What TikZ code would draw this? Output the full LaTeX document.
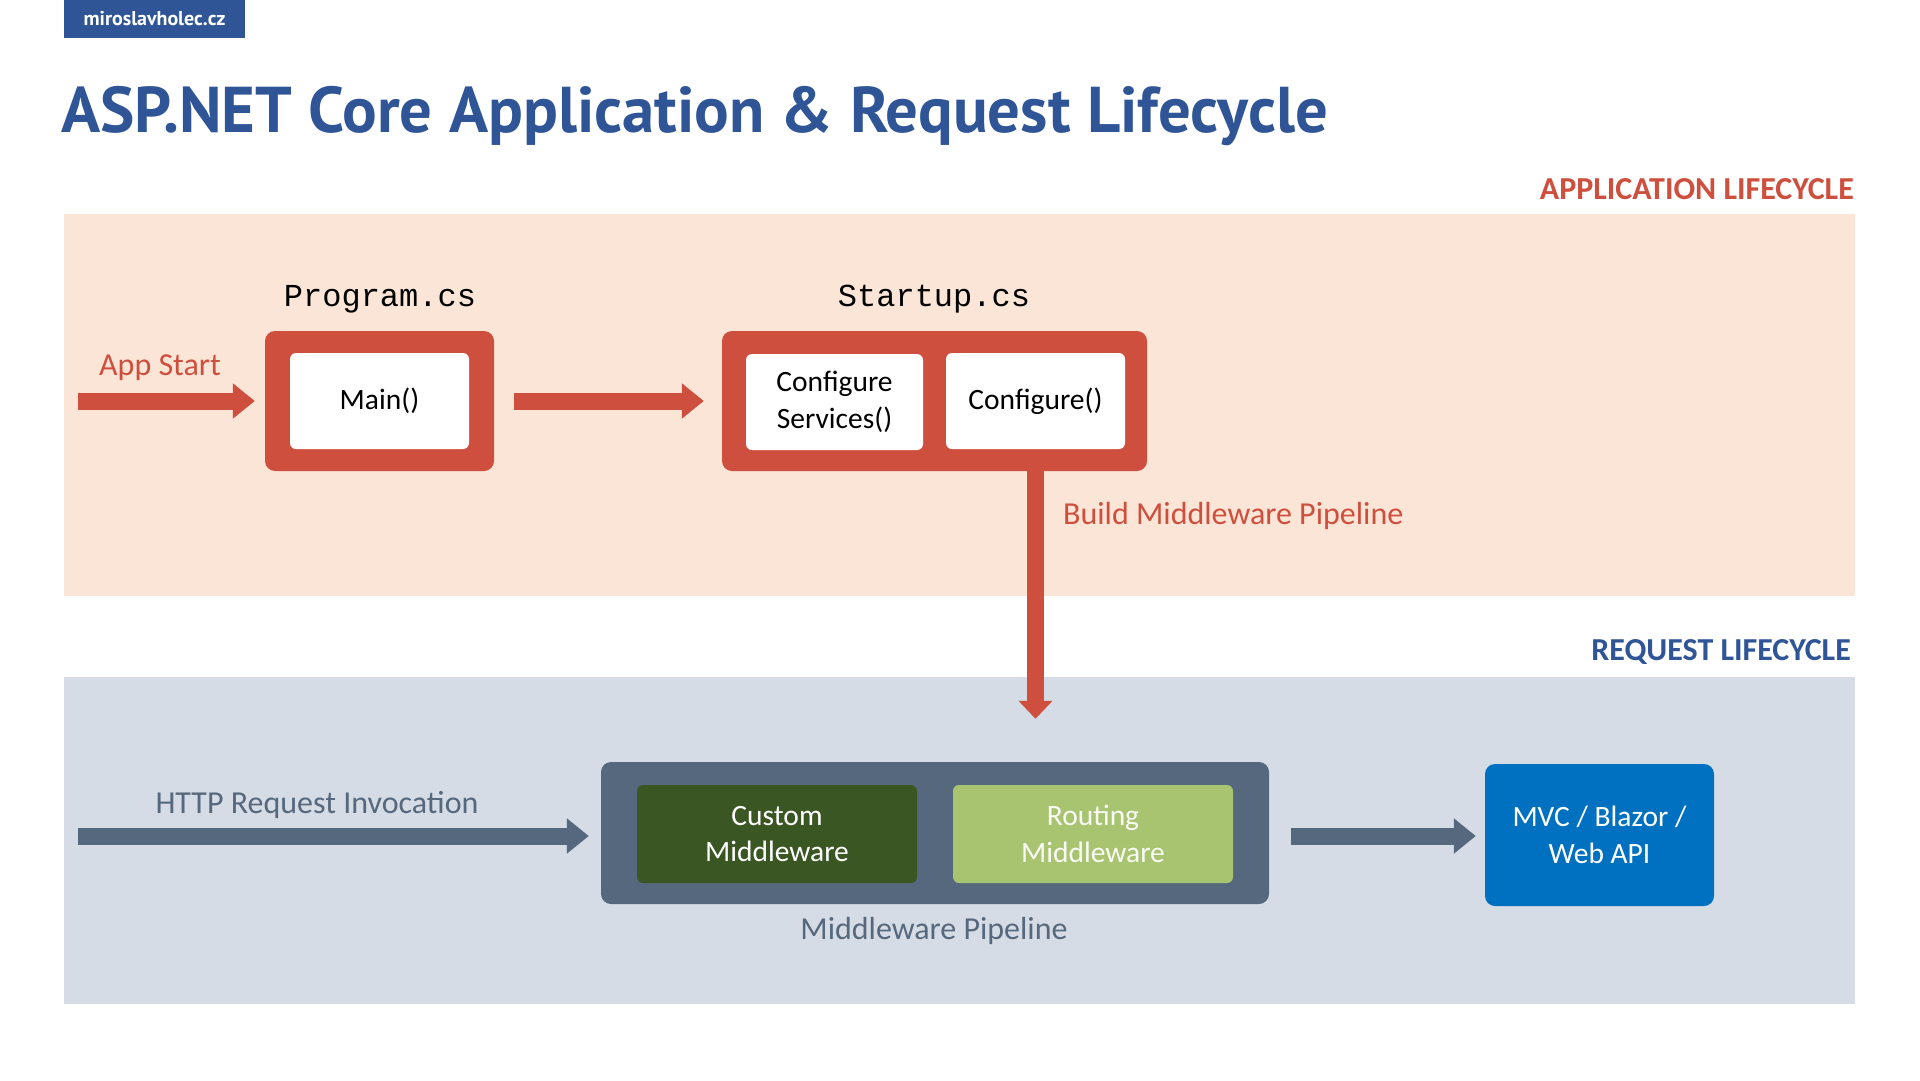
\documentclass[tikz,border=0pt]{standalone}
\usepackage{fontspec}
\setmainfont{Carlito}
\setmonofont{Liberation Mono}
\newfontfamily\headfont{PT Sans}
\usetikzlibrary{positioning,arrows.meta}
\definecolor{titleblue}{HTML}{2F5597}
\definecolor{appred}{HTML}{CF4F3E}
\definecolor{peach}{HTML}{FBE5D6}
\definecolor{greyblue}{HTML}{D6DCE5}
\definecolor{slate}{HTML}{56687D}
\definecolor{darkgreen}{HTML}{3A5623}
\definecolor{lightgreen}{HTML}{A9C470}
\definecolor{mvcblue}{HTML}{0070C0}

\begin{document}
\begin{tikzpicture}[x=1pt,y=-1pt,
  txt/.style={font=\fontsize{32}{37}\selectfont,inner sep=0pt},
  code/.style={font=\ttfamily\fontsize{32}{37}\selectfont,inner sep=0pt},
  outerbox/.style={rounded corners=10pt,minimum height=140pt,inner sep=0pt},
  innerbox/.style={font=\fontsize{29.5}{36.5}\selectfont,inner sep=0pt,rounded corners=6pt,minimum height=96pt,align=center},
  redarrow/.style={draw=appred,line width=17pt,-{Triangle[length=22pt,width=34pt]}},
  slatearrow/.style={draw=slate,line width=17pt,-{Triangle[length=22pt,width=34pt]}}]
\useasboundingbox (0,0) rectangle (1920,1080);
\fill[white] (0,0) rectangle (1920,1080);

% header
\fill[titleblue] (64,0) rectangle (245,38);
\node[font=\headfont\bfseries\fontsize{20}{23}\selectfont,text=white] (logo) at (154.5,19) {miroslavholec.cz};
\node[font=\headfont\bfseries\fontsize{64.7}{70}\selectfont,text=titleblue,anchor=west,inner sep=0pt] (title) at (61,116) {ASP.NET Core Application \& Request Lifecycle};

% application lifecycle
\node[txt,font=\bfseries\fontsize{32}{37}\selectfont,text=appred,anchor=east] (applbl) at (1854,189) {APPLICATION LIFECYCLE};
\fill[peach] (64,214) rectangle (1855,596);

\node[outerbox,fill=appred,minimum width=229pt] (program) at (379.5,401) {};
\node[innerbox,fill=white,minimum width=179pt] (main) at (program) {Main()};
\node[code] (programlbl) at (380,299) {Program.cs};

\node[outerbox,fill=appred,minimum width=425pt] (startup) at (934.5,401) {};
\node[innerbox,fill=white,minimum width=177pt] (confsvc) at (834.5,402) {Configure\\Services()};
\node[innerbox,fill=white,minimum width=179pt] (conf) at (1035.5,401) {Configure()};
\node[code] (startuplbl) at (934,299) {Startup.cs};

\coordinate (appstart) at (78,401);
\node[txt,text=appred] (appstartlbl) at (160,368) {App Start};
\draw[redarrow,shorten >=10pt] (appstart) -- (program.west);
\draw[redarrow,shorten <=20pt,shorten >=18pt] (program.east) -- (startup.west);

% request lifecycle
\node[txt,font=\bfseries\fontsize{32}{37}\selectfont,text=titleblue,anchor=east] (reqlbl) at (1851,652) {REQUEST LIFECYCLE};
\fill[greyblue] (64,677) rectangle (1855,1004);

\node[outerbox,fill=slate,minimum width=668pt,minimum height=142pt] (pipeline) at (935,833) {};
\node[innerbox,fill=darkgreen,text=white,minimum width=280pt,minimum height=98pt] (custom) at (777,834) {Custom\\Middleware};
\node[innerbox,fill=lightgreen,text=white!94!lightgreen,minimum width=280pt,minimum height=98pt] (routing) at (1093,834) {Routing\\Middleware};
\node[txt,text=slate] (pipelbl) at (934,931) {Middleware Pipeline};

\node[innerbox,fill=mvcblue,text=white,rounded corners=10pt,minimum width=229pt,minimum height=142pt] (mvc) at (1599.5,835) {MVC / Blazor /\\Web API};

\coordinate (httpstart) at (78,836);
\node[txt,text=slate] (httplbl) at (317,805) {HTTP Request Invocation};
\draw[slatearrow,shorten >=12pt] (httpstart) -- (httpstart -| pipeline.west);
\draw[slatearrow,shorten <=22pt,shorten >=9pt] (httpstart -| pipeline.east) -- (httpstart -| mvc.west);

% build pipeline
\draw[draw=appred,line width=17pt,-{Triangle[length=18pt,width=33pt]}] (startup.south -| conf.south) -- ([yshift=43pt]pipeline.north -| conf.south);
\node[txt,text=appred,anchor=west] (buildlbl) at (1063,516) {Build Middleware Pipeline};
\end{tikzpicture}
\end{document}
